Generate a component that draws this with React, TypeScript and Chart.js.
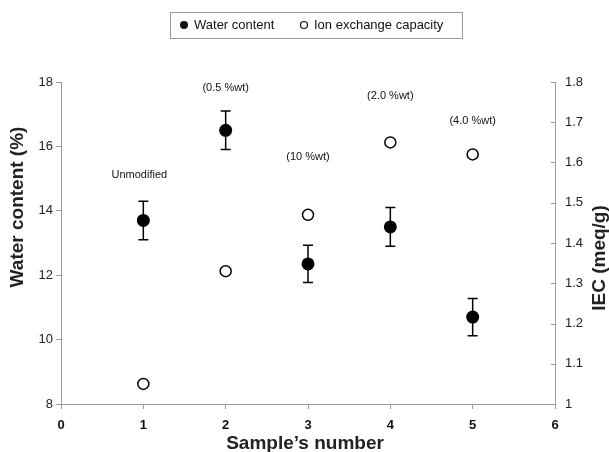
import React, { useEffect, useRef } from "react";
import { Chart, registerables } from "chart.js";

Chart.register(...registerables);

const samples = [1, 2, 3, 4, 5];
const waterContent = [13.7, 16.5, 12.35, 13.5, 10.7];
const waterError = [0.6, 0.6, 0.58, 0.6, 0.58];
const iec = [1.05, 1.33, 1.47, 1.65, 1.62];
const annotationLabels = ["Unmodified", "(0.5 %wt)", "(10 %wt)", "(2.0 %wt)", "(4.0 %wt)"];
const annotationY = [15.1, 17.8, 15.67, 17.57, 16.79];
const legendLabels = ["Water content", "Ion exchange capacity"];
const xTitle = "Sample\u2019s number";
const yTitle = "Water content (%)";
const y1Title = "IEC (meq/g)";

const FONT = "'Liberation Sans', Arial, sans-serif";

const extrasPlugin = {
  id: "extras",
  beforeDatasetsDraw(chart: any) {
    const ctx = chart.ctx;
    const xs = chart.scales.x;
    const ys = chart.scales.y;
    ctx.save();
    ctx.strokeStyle = "#000";
    ctx.lineWidth = 1.5;
    samples.forEach((s, i) => {
      const x = xs.getPixelForValue(s);
      const top = ys.getPixelForValue(waterContent[i] + waterError[i]);
      const bot = ys.getPixelForValue(waterContent[i] - waterError[i]);
      ctx.beginPath();
      ctx.moveTo(x, top);
      ctx.lineTo(x, bot);
      ctx.moveTo(x - 5, top);
      ctx.lineTo(x + 5, top);
      ctx.moveTo(x - 5, bot);
      ctx.lineTo(x + 5, bot);
      ctx.stroke();
    });
    // inward ticks on right axis
    const y1 = chart.scales.y1;
    ctx.strokeStyle = "#999";
    ctx.lineWidth = 1;
    y1.ticks.forEach((t: any) => {
      const py = Math.round(y1.getPixelForValue(t.value)) + 0.5;
      ctx.beginPath();
      ctx.moveTo(y1.left, py);
      ctx.lineTo(y1.left - 4, py);
      ctx.stroke();
    });
    ctx.restore();
  },
  afterDraw(chart: any) {
    const ctx = chart.ctx;
    const xs = chart.scales.x;
    const ys = chart.scales.y;
    ctx.save();
    // annotations
    ctx.fillStyle = "#111";
    ctx.font = `11px ${FONT}`;
    ctx.textAlign = "center";
    ctx.textBaseline = "middle";
    samples.forEach((s, i) => {
      ctx.fillText(annotationLabels[i], xs.getPixelForValue(s) - (i === 0 ? 4 : 0), ys.getPixelForValue(annotationY[i]));
    });
    // axis titles
    ctx.fillStyle = "#222";
    ctx.font = `bold 19px ${FONT}`;
    ctx.fillText(xTitle, 305, 444);
    ctx.save();
    ctx.translate(18, 207);
    ctx.rotate(-Math.PI / 2);
    ctx.fillText(yTitle, 0, 0);
    ctx.restore();
    ctx.save();
    ctx.translate(600, 258);
    ctx.rotate(-Math.PI / 2);
    ctx.font = `bold 19px ${FONT}`;
    ctx.fillText(y1Title, 0, 0);
    ctx.restore();
    // legend
    ctx.strokeStyle = "#999";
    ctx.lineWidth = 1;
    ctx.strokeRect(170.5, 12.5, 292, 26);
    ctx.font = `13px ${FONT}`;
    ctx.textAlign = "left";
    ctx.fillStyle = "#111";
    ctx.beginPath();
    ctx.arc(184, 25, 4, 0, Math.PI * 2);
    ctx.fill();
    ctx.fillText(legendLabels[0], 194, 25);
    ctx.beginPath();
    ctx.arc(304, 25, 3.5, 0, Math.PI * 2);
    ctx.strokeStyle = "#111";
    ctx.lineWidth = 1.2;
    ctx.stroke();
    ctx.fillText(legendLabels[1], 314, 25);
    ctx.restore();
  },
};

export default function App() {
  const ref = useRef<HTMLCanvasElement>(null);
  useEffect(() => {
    if (!ref.current) return;
    const chart = new Chart(ref.current, {
      type: "scatter",
      data: {
        datasets: [
          {
            label: legendLabels[0],
            data: samples.map((s, i) => ({ x: s, y: waterContent[i] })),
            yAxisID: "y",
            pointRadius: 6.5,
            pointBackgroundColor: "#000",
            pointBorderColor: "#000",
            pointBorderWidth: 0,
            showLine: false,
          },
          {
            label: legendLabels[1],
            data: samples.map((s, i) => ({ x: s, y: iec[i] })),
            yAxisID: "y1",
            pointRadius: 5.5,
            pointBackgroundColor: "#fff",
            pointBorderColor: "#000",
            pointBorderWidth: 1.5,
            showLine: false,
          },
        ],
      },
      options: {
        responsive: false,
        animation: false,
        layout: { padding: { top: 82, left: 0, right: 0, bottom: 0 } },
        plugins: { legend: { display: false }, tooltip: { enabled: false } },
        scales: {
          x: {
            type: "linear",
            min: 0,
            max: 6,
            ticks: { stepSize: 1, color: "#111", font: { family: FONT, size: 13, weight: "bold" }, padding: 9 },
            grid: { drawOnChartArea: false, drawTicks: true, tickLength: 5, color: "#999" },
            border: { color: "#999", width: 1 },
            afterFit: (s: any) => { s.height = 48; },
          },
          y: {
            type: "linear",
            position: "left",
            min: 8,
            max: 18,
            ticks: { stepSize: 2, color: "#222", font: { family: FONT, size: 13 }, padding: 3 },
            grid: { drawOnChartArea: false, drawTicks: true, tickLength: 5, color: "#999" },
            border: { color: "#999", width: 1 },
            afterFit: (s: any) => { s.width = 61; },
          },
          y1: {
            type: "linear",
            position: "right",
            min: 1,
            max: 1.8,
            ticks: {
              stepSize: 0.1,
              color: "#222",
              font: { family: FONT, size: 13 },
              padding: 10,
              callback: (v: any) => String(Math.round(Number(v) * 10) / 10),
            },
            grid: { drawOnChartArea: false, drawTicks: false, color: "#999" },
            border: { color: "#999", width: 1 },
            afterFit: (s: any) => { s.width = 54; },
          },
        },
      },
      plugins: [extrasPlugin],
    } as any);
    return () => chart.destroy();
  }, []);
  return (
    <div style={{ position: "fixed", left: 0, top: 0, width: 609, height: 452, background: "#fff" }}>
      <canvas ref={ref} width={609} height={452} />
    </div>
  );
}
